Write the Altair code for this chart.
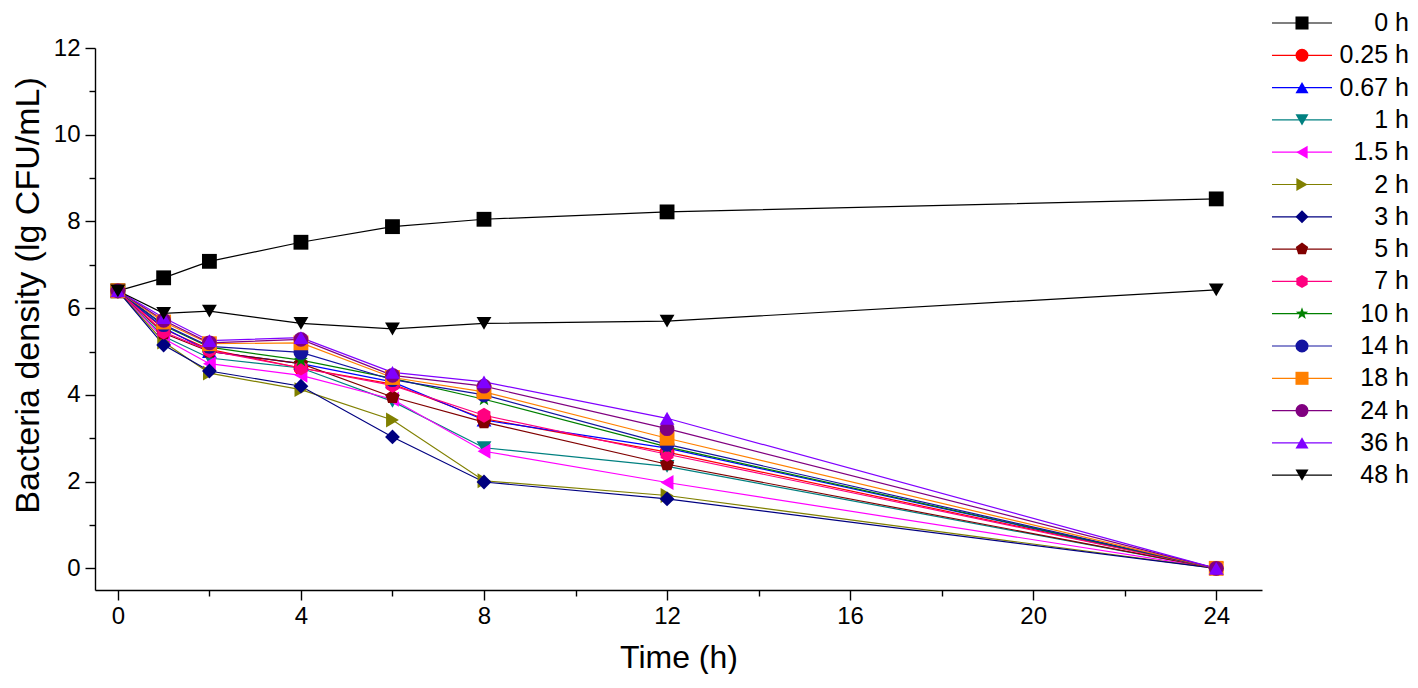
import altair as alt
import pandas as pd

# ---------------- data ----------------
times = [0, 1, 2, 4, 6, 8, 12, 24]

series_labels = ["0 h", "0.25 h", "0.67 h", "1 h", "1.5 h", "2 h", "3 h", "5 h",
                 "7 h", "10 h", "14 h", "18 h", "24 h", "36 h", "48 h"]

v_0h   = [6.40, 6.70, 7.08, 7.52, 7.88, 8.05, 8.22, 8.52]
v_025h = [6.40, 5.52, 5.05, 4.62, 4.25, 3.45, 2.68, 0.00]
v_067h = [6.40, 5.55, 5.00, 4.72, 4.30, 3.42, 2.77, 0.00]
v_1h   = [6.40, 5.35, 4.85, 4.62, 3.85, 2.78, 2.35, 0.00]
v_15h  = [6.40, 5.30, 4.72, 4.45, 3.90, 2.70, 1.98, 0.00]
v_2h   = [6.40, 5.22, 4.50, 4.12, 3.42, 2.02, 1.68, 0.00]
v_3h   = [6.40, 5.15, 4.55, 4.20, 3.03, 1.99, 1.60, 0.00]
v_5h   = [6.40, 5.42, 5.00, 4.72, 3.95, 3.37, 2.40, 0.00]
v_7h   = [6.40, 5.45, 5.02, 4.62, 4.22, 3.53, 2.63, 0.00]
v_10h  = [6.40, 5.60, 5.10, 4.80, 4.38, 3.90, 2.80, 0.00]
v_14h  = [6.40, 5.62, 5.12, 4.98, 4.35, 4.00, 2.86, 0.00]
v_18h  = [6.40, 5.68, 5.18, 5.20, 4.40, 4.07, 3.00, 0.00]
v_24h  = [6.40, 5.72, 5.20, 5.28, 4.45, 4.20, 3.22, 0.00]
v_36h  = [6.40, 5.78, 5.25, 5.32, 4.52, 4.30, 3.46, 0.00]
v_48h  = [6.40, 5.88, 5.93, 5.65, 5.52, 5.65, 5.70, 6.42]

series_values = [v_0h, v_025h, v_067h, v_1h, v_15h, v_2h, v_3h, v_5h,
                 v_7h, v_10h, v_14h, v_18h, v_24h, v_36h, v_48h]

series_colors = ["#000000", "#FF0000", "#0000FF", "#008080", "#FF00FF", "#808000",
                 "#000080", "#800000", "#FF0080", "#008000", "#1414A0", "#FF8000",
                 "#800080", "#8000FF", "#000000"]

PENT = "M0,-1L0.951,-0.309L0.588,0.809L-0.588,0.809L-0.951,-0.309Z"
HEX = "M0,-1L0.866,-0.5L0.866,0.5L0,1L-0.866,0.5L-0.866,-0.5Z"
STAR = ("M0,-1L0.235,-0.324L0.951,-0.309L0.380,0.124L0.588,0.809L0,0.4"
        "L-0.588,0.809L-0.380,0.124L-0.951,-0.309L-0.235,-0.324Z")
series_shapes = ["square", "circle", "triangle-up", "triangle-down", "triangle-left",
                 "triangle-right", "diamond", PENT, HEX, STAR, "circle", "square",
                 "circle", "triangle-up", "triangle-down"]

x_major = [0, 4, 8, 12, 16, 20, 24]
x_minor = [2, 6, 10, 14, 18, 22]
y_major = [0, 2, 4, 6, 8, 10, 12]
y_minor = [1, 3, 5, 7, 9, 11]

rows = []
for i, (lab, vals) in enumerate(zip(series_labels, series_values)):
    for t, v in zip(times, vals):
        rows.append({"series": lab, "order": i, "time": t, "value": v})
df = pd.DataFrame(rows)

FONT = "Liberation Sans"

xs = alt.Scale(domain=[-0.5, 25], nice=False, zero=False)
ys = alt.Scale(domain=[-0.5, 12], nice=False, zero=False)

base = alt.Chart(df)

LEG_X = 1194.5
LEG_Y = -37.5
ROW_PAD = 6.3

lines = base.mark_line(strokeWidth=1.2).encode(
    x=alt.X("time:Q", scale=xs,
            axis=alt.Axis(values=x_major, tickSize=10, labelFontSize=24, labelPadding=4,
                          labelFlush=False, title="Time (h)", titleFontSize=32,
                          titleX=583.5, titleY=67, titleBaseline="middle")),
    y=alt.Y("value:Q", scale=ys,
            axis=alt.Axis(values=y_major, tickSize=10, labelFontSize=24, labelPadding=5,
                          labelFlush=False, title="Bacteria density (lg CFU/mL)",
                          titleFontSize=34, titleAngle=270, titleX=-67, titleY=247,
                          titleBaseline="middle", titleAlign="center")),
    color=alt.Color("series:N", sort=series_labels,
                    scale=alt.Scale(range=series_colors),
                    legend=alt.Legend(orient="none", legendX=LEG_X, legendY=LEG_Y, title=None,
                                      symbolType="M-7.5,0H7.5", symbolSize=64,
                                      symbolStrokeWidth=1.2, labelFontSize=25,
                                      labelExpr="''", rowPadding=ROW_PAD, padding=0)),
    detail="series:N",
)

legend_b = alt.Legend(orient="none", legendX=LEG_X, legendY=LEG_Y, title=None,
                      symbolSize=170, symbolStrokeWidth=0, labelFontSize=25,
                      labelAlign="right", labelOffset=94.5, rowPadding=ROW_PAD, padding=0)

points = base.mark_point(filled=True, size=220, opacity=1).encode(
    x=alt.X("time:Q", scale=xs, axis=None),
    y=alt.Y("value:Q", scale=ys, axis=None),
    fill=alt.Fill("series:N", scale=alt.Scale(domain=series_labels, range=series_colors),
                  legend=legend_b),
    shape=alt.Shape("series:N", scale=alt.Scale(domain=series_labels, range=series_shapes),
                    legend=legend_b),
)

minor = base.mark_point(opacity=0).encode(
    x=alt.X("time:Q", scale=xs,
            axis=alt.Axis(orient="bottom", values=x_minor, tickSize=6, labels=False,
                          domain=False, title="")),
    y=alt.Y("value:Q", scale=ys,
            axis=alt.Axis(orient="left", values=y_minor, tickSize=6, labels=False,
                          domain=False, title="")),
)

chart = alt.layer(lines, points, minor).resolve_axis(
    x="independent", y="independent"
).properties(
    width=1167, height=542,
    padding={"left": 87, "top": 40, "right": 148, "bottom": 84},
    autosize=alt.AutoSizeParams(type="none"),
).configure_view(strokeWidth=0).configure_axis(
    grid=False, domainColor="black", domainWidth=1.4, tickColor="black", tickWidth=1.4,
    labelColor="black", titleColor="black", labelFont=FONT, titleFont=FONT,
    titleFontWeight="normal",
).configure_legend(labelFont=FONT, labelColor="black")

chart.save("out.html", embed_options={"renderer": "svg", "actions": False})
